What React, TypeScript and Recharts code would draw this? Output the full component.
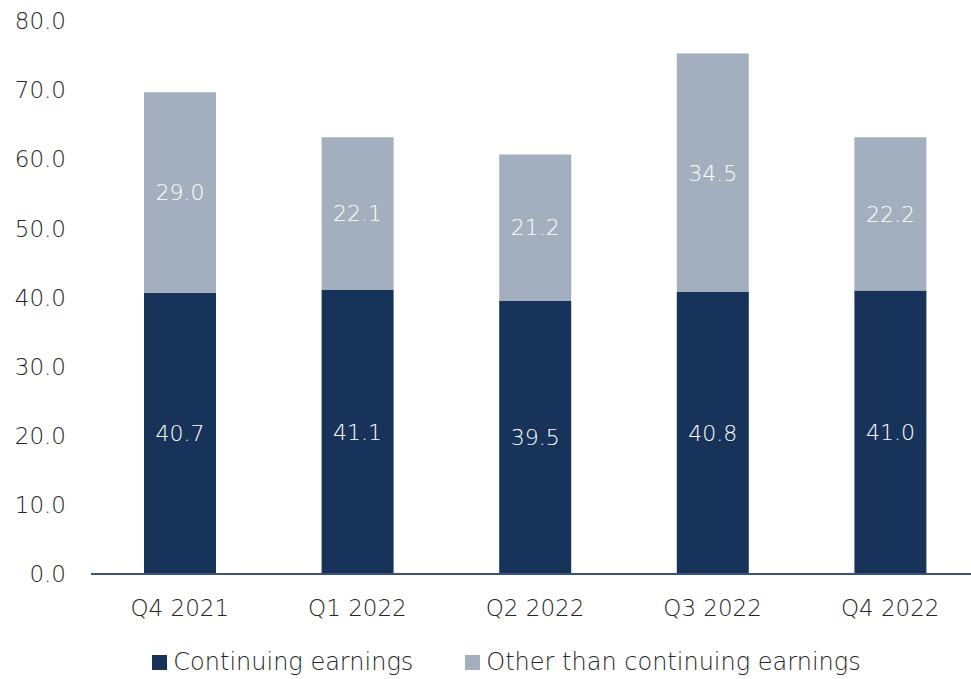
import { BarChart, Bar, XAxis, YAxis, LabelList, Legend } from 'recharts';

const quarters = ['Q4 2021', 'Q1 2022', 'Q2 2022', 'Q3 2022', 'Q4 2022'];
const continuing = [40.7, 41.1, 39.5, 40.8, 41.0];
const other = [29.0, 22.1, 21.2, 34.5, 22.2];
const yTicks = [0, 10, 20, 30, 40, 50, 60, 70, 80];

const NAVY = '#17335A';
const GREY = '#A3AEBE';
const FONT = '"DejaVu Sans ExtraLight", "DejaVu Sans Light", "DejaVu Sans", sans-serif';
const FW = 200;
const TEXT = '#262626';

const data = quarters.map((q, i) => ({
    quarter: q,
    continuing: continuing[i],
    other: other[i],
}));

const fmt = (v: any) => Number(v).toFixed(1);

function LegendBox() {
    const items = [
        { label: 'Continuing earnings', color: NAVY },
        { label: 'Other than continuing earnings', color: GREY },
    ];
    return (
        <div style={{ display: 'flex', justifyContent: 'center', gap: 52, paddingLeft: 42, fontFamily: FONT, fontSize: 24, fontWeight: FW, color: TEXT }}>
            {items.map((it) => (
                <div key={it.label} style={{ display: 'flex', alignItems: 'center' }}>
                    <span style={{ width: 15, height: 15, background: it.color, marginRight: 6, display: 'inline-block' }} />
                    <span>{it.label}</span>
                </div>
            ))}
        </div>
    );
}

export default function App() {
    return (
        <div style={{ position: 'fixed', top: 0, left: 0, width: 971, height: 679, overflow: 'hidden', background: '#fff' }}>
            <BarChart
                width={979}
                height={679}
                data={data}
                margin={{ top: 21, right: 0, bottom: 47, left: 0 }}
            >
                <YAxis
                    domain={[0, 80]}
                    ticks={yTicks}
                    width={91}
                    axisLine={false}
                    tickLine={false}
                    tickSize={0}
                    tickMargin={25}
                    tickFormatter={fmt}
                    tick={{ fill: TEXT, fontSize: 23, fontFamily: FONT, fontWeight: FW }}
                />
                <XAxis
                    dataKey="quarter"
                    axisLine={{ stroke: '#3B5378', strokeWidth: 2 }}
                    tickLine={false}
                    tickSize={0}
                    tickMargin={22}
                    tick={{ fill: TEXT, fontSize: 23, fontFamily: FONT, fontWeight: FW, dy: 4 }}
                />
                <Legend
                    content={() => <LegendBox />}
                    wrapperStyle={{ top: 648, left: 0, width: 971 }}
                />
                <Bar dataKey="continuing" stackId="a" fill={NAVY} barSize={72} isAnimationActive={false}>
                    <LabelList dataKey="continuing" position="center" fill="#fff" fontSize={22} fontFamily={FONT} fontWeight={FW} formatter={fmt} />
                </Bar>
                <Bar dataKey="other" stackId="a" fill={GREY} barSize={72} isAnimationActive={false}>
                    <LabelList dataKey="other" position="center" fill="#fff" fontSize={22} fontFamily={FONT} fontWeight={FW} formatter={fmt} />
                </Bar>
            </BarChart>
        </div>
    );
}
